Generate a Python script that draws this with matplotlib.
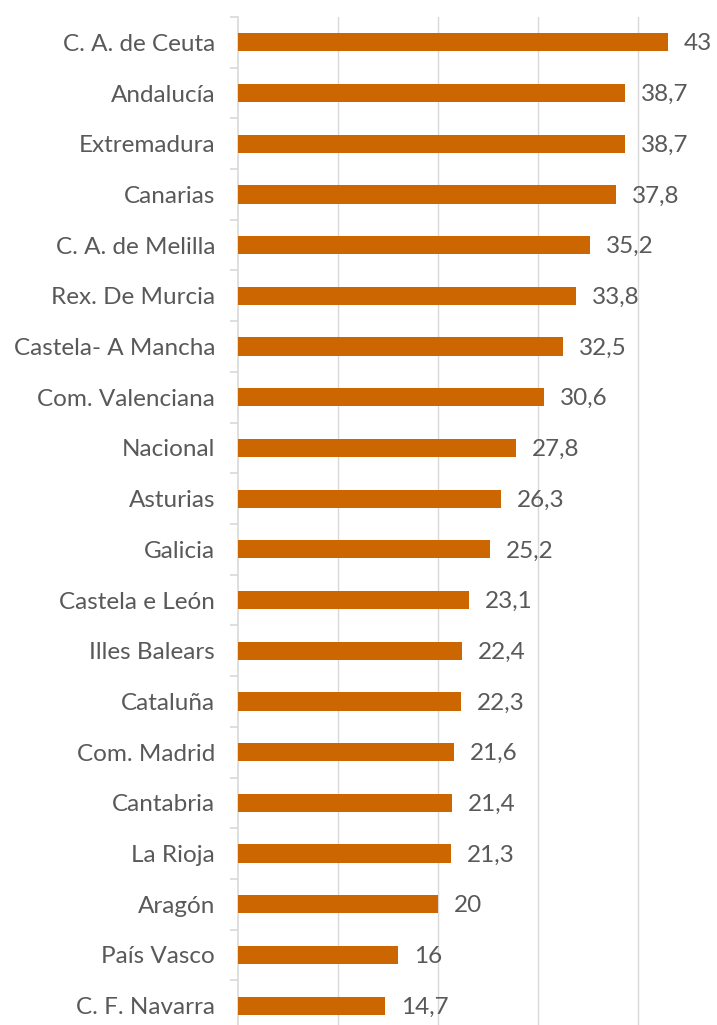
import matplotlib.pyplot as plt
import numpy as np

# Regions, top to bottom as shown
regions = ["C. A. de Ceuta", "Andalucía", "Extremadura", "Canarias", "C. A. de Melilla",
           "Rex. De Murcia", "Castela- A Mancha", "Com. Valenciana", "Nacional", "Asturias",
           "Galicia", "Castela e León", "Illes Balears", "Cataluña", "Com. Madrid",
           "Cantabria", "La Rioja", "Aragón", "País Vasco", "C. F. Navarra"]
values = [43, 38.7, 38.7, 37.8, 35.2, 33.8, 32.5, 30.6, 27.8, 26.3,
          25.2, 23.1, 22.4, 22.3, 21.6, 21.4, 21.3, 20, 16, 14.7]

bar_color = "#CC6600"
text_color = "#595959"
grid_color = "#D9D9D9"

plt.rcParams['font.family'] = ['Lato', 'DejaVu Sans']

fig = plt.figure(figsize=(7.17, 10.25), dpi=100)
# plot area runs a little past the bottom of the picture, as in the reference
ax = fig.add_axes([238 / 717, -6 / 1025, 500 / 717, 1014 / 1025])

y = np.arange(len(regions))
ax.barh(y, values, height=0.36, color=bar_color, zorder=3)

for yi, v in zip(y, values):
    label = f"{v:g}".replace(".", ",")
    ax.text(v + 1.6, yi + 0.03, label, va="center", ha="left", fontsize=17.5,
            color=text_color)

ax.set_xlim(0, 50)
ax.set_ylim(len(regions) - 0.5, -0.5)
ax.set_xticks([10, 20, 30, 40])
ax.xaxis.grid(True, color=grid_color, linewidth=1, zorder=0)
ax.tick_params(axis="x", length=0, labelbottom=False)

ax.set_yticks(y)
ax.set_yticklabels(regions, fontsize=17.5, color=text_color)
ax.set_yticks(np.arange(-0.5, len(regions)), minor=True)
ax.tick_params(axis="y", which="major", length=0, pad=16.5)
ax.tick_params(axis="y", which="minor", length=6, color=grid_color, width=1.2)

for s in ["top", "right", "bottom"]:
    ax.spines[s].set_visible(False)
ax.spines["left"].set_color(grid_color)
ax.spines["left"].set_linewidth(1.2)

fig.savefig("out.png", dpi=100)
